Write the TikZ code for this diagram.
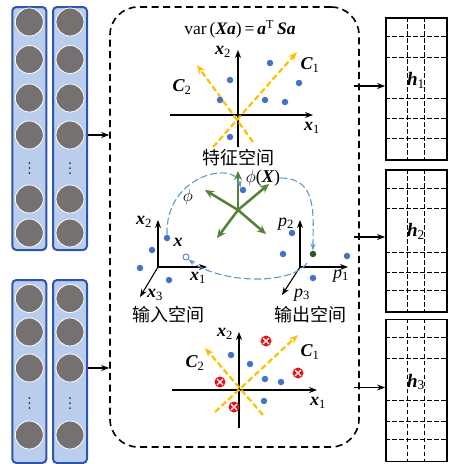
\documentclass[tikz,border=0pt]{standalone}
\usepackage{fontspec}
\setmainfont{Liberation Serif}
\newfontfamily\cjk{Noto Sans CJK SC}
\usetikzlibrary{arrows.meta,calc}
\definecolor{colfill}{RGB}{186,205,236}
\definecolor{colborder}{RGB}{47,85,170}
\definecolor{neurongray}{RGB}{118,113,113}
\definecolor{dotblue}{RGB}{68,114,196}
\definecolor{pcyellow}{RGB}{255,192,0}
\definecolor{greenarr}{RGB}{84,130,53}
\definecolor{darkgreen}{RGB}{46,84,30}
\definecolor{curveblue}{RGB}{91,155,213}
\definecolor{redpt}{RGB}{230,20,20}
\newcommand\bvx[1]{\textbf{\textit{x}}\textsubscript{#1}}
\newcommand\bvC[1]{\textbf{\textit{C}}\textsubscript{#1}}
\newcommand\ivp[1]{\textit{p}\textsubscript{#1}}
\begin{document}
\begin{tikzpicture}[x=1pt,y=-1pt,
  col/.style={draw=colborder, fill=colfill, line width=2pt, rounded corners=4pt, inner sep=0pt, minimum width=34pt},
  neuron/.style={circle, fill=neurongray, draw=white, line width=0.8pt, minimum size=28pt, inner sep=0pt},
  vdot/.style={circle, fill=black!80, minimum size=2pt, inner sep=0pt},
  arr/.style={-{Stealth[length=8pt,width=6pt]}, line width=1.3pt},
  axis/.style={-{Stealth[length=8pt,width=6pt]}, line width=1.1pt},
  pc/.style={draw=pcyellow, line width=2.2pt, dash pattern=on 6pt off 3pt, -{Stealth[length=9pt,width=7pt]}},
  garr/.style={draw=greenarr, line width=2.5pt, -{Stealth[length=9pt,width=8pt]}},
  crv/.style={draw=curveblue, line width=1.1pt, dash pattern=on 7pt off 3pt, -{Stealth[length=7pt,width=5pt]}},
  dot/.style={circle, fill=dotblue, minimum size=6.5pt, inner sep=0pt},
  xdot/.style={circle, fill=redpt, minimum size=11pt, inner sep=0pt,
     path picture={\draw[white,line width=1.1pt]
       ([shift={(-3pt,-3pt)}]path picture bounding box.center) -- ([shift={(3pt,3pt)}]path picture bounding box.center)
       ([shift={(-3pt,3pt)}]path picture bounding box.center) -- ([shift={(3pt,-3pt)}]path picture bounding box.center);}},
  lbl/.style={font=\fontsize{18}{18}\selectfont, inner sep=0pt},
  ttl/.style={font=\fontsize{17.5}{18}\selectfont, inner sep=0pt},
  zh/.style={font=\cjk\fontsize{18}{18}\selectfont, inner sep=0pt},
  hbox/.style={draw, line width=1.8pt, minimum width=61pt, minimum height=142pt, inner sep=0pt},
  grid/.style={line width=0.8pt, dash pattern=on 4.5pt off 2.5pt},
  hlbl/.style={font=\fontsize{19}{19}\selectfont, inner sep=0pt}
]
\useasboundingbox (0,0) rectangle (454,464);

% ---------- left columns, top group ----------
\node[col, minimum height=243pt] (ca1) at (29.3,128.5) {};
\node[col, minimum height=243pt] (ca2) at (70,128.5) {};
\foreach \c/\x in {1/29.3,2/70}{
  \foreach \i/\y in {1/22,2/59.5,3/98,4/135,6/199,7/233}{
    \node[neuron] (t\c\i) at (\x,\y) {};
  }
  \foreach \j/\y in {a/163,b/168,c/173}{\node[vdot] (td\c\j) at (\x,\y) {};}
}
% ---------- left columns, bottom group ----------
\node[col, minimum height=183pt] (cb1) at (29.3,371.5) {};
\node[col, minimum height=183pt] (cb2) at (70,371.5) {};
\foreach \c/\x in {1/29.3,2/70}{
  \foreach \i/\y in {1/298.5,2/332,3/368,5/435}{
    \node[neuron] (b\c\i) at (\x,\y) {};
  }
  \foreach \j/\y in {a/398,b/403,c/408}{\node[vdot] (bd\c\j) at (\x,\y) {};}
}

% ---------- central dashed box ----------
\node[draw, line width=1.6pt, dash pattern=on 7pt off 4.5pt, rounded corners=28pt,
      minimum width=249pt, minimum height=440pt, inner sep=0pt] (fbox) at (234.5,227) {};

\draw[arr] (t24 -| ca2.east) -- (t24 -| fbox.west);
\draw[arr] (b23 -| cb2.east) -- (b23 -| fbox.west);

% ---------- top plot ----------
\node[ttl] (title) at (240,29) {var\,(\textbf{\textit{Xa}})\,=\,\textbf{\textit{a}}\textsuperscript{T}\,\textbf{\textit{Sa}}};
\coordinate (o1l) at (170,115);
\coordinate (o1r) at (313,115);
\coordinate (o1b) at (238,147);
\coordinate (o1t) at (238,50);
\draw[axis] (o1l) -- (o1r);
\draw[axis] (o1b) -- (o1t);
\coordinate (c1s) at (213,147); \coordinate (c1e) at (297,52);
\coordinate (c2s) at (253,142); \coordinate (c2e) at (197,65);
\draw[pc] (c1s) -- (c1e);
\draw[pc] (c2s) -- (c2e);
\node[lbl] (tx2) at (223,52) {\bvx{2}};
\node[lbl] (tx1) at (312,128) {\bvx{1}};
\node[lbl] (tC1) at (310,65) {\bvC{1}};
\node[lbl] (tC2) at (182,87) {\bvC{2}};
\foreach \n/\p in {1/{(270,63)},2/{(230,80)},3/{(299,83)},4/{(220,100)},5/{(265,100)},6/{(285,102)},7/{(230,137)}}
  \node[dot] (td\n) at \p {};
\node[zh] (feat) at (238,158) {特征空间};

% ---------- middle: feature mapping ----------
\coordinate (gc) at (238,210);
\coordinate (gu) at (238,171);
\coordinate (gur) at (269,184);
\coordinate (gul) at (205,190);
\coordinate (gdl) at (217,238);
\coordinate (gdr) at (266,234);
\foreach \t in {gu,gur,gul,gdl,gdr} \draw[garr] (gc) -- (\t);

\node[dot] (phix) at (243,190) {};
\node[lbl] (philbl) at (263,178) {$\phi$(\textbf{\textit{X}})};
\node[lbl] (phi) at (188,197) {$\phi$};

% input space
\coordinate (io) at (158,267);
\coordinate (iy) at (158,220);
\coordinate (ix) at (207,267);
\coordinate (iz) at (140,297);
\draw[axis] (io) -- (iy);
\draw[axis] (io) -- (ix);
\draw[axis] (io) -- (iz);
\node[lbl] (ix2) at (144,222) {\bvx{2}};
\node[lbl] (ix1) at (198,278) {\bvx{1}};
\node[lbl] (ix3) at (155,295) {\bvx{3}};
\node[dot] (xin) at (167,238) {};
\node[lbl] (xlbl) at (178,242) {\textbf{\textit{x}}};
\node[dot] (id2) at (152,250) {};
\node[dot] (id3) at (140,268) {};
\node[dot] (id4) at (169,280) {};
\node[circle, draw=dotblue, fill=white, line width=0.8pt, minimum size=6pt, inner sep=0pt] (hollow) at (186,257) {};
\node[zh] (inlbl) at (168,315) {输入空间};

% output space
\coordinate (po) at (300,267);
\coordinate (py) at (300,220);
\coordinate (px) at (348,267);
\coordinate (pz) at (282,295);
\draw[axis] (po) -- (py);
\draw[axis] (po) -- (px);
\draw[axis] (po) -- (pz);
\node[lbl] (pp2) at (286,224) {\ivp{2}};
\node[lbl] (pp1) at (341,276) {\ivp{1}};
\node[lbl] (pp3) at (302,295) {\ivp{3}};
\node[dot] (od1) at (292,233) {};
\node[dot] (od2) at (283,254) {};
\node[dot, fill=darkgreen] (ogreen) at (313,254) {};
\node[dot] (od4) at (347,256) {};
\node[dot] (od5) at (313,278) {};
\node[zh] (outlbl) at (310,315) {输出空间};

% dashed curves
\draw[crv] (xin.north) .. controls (165,175) and (235,160) .. (phix.north west);
\draw[crv] (philbl.east) .. controls (318,178) and (313,215) .. (ogreen.north);
\draw[crv] (307,263) .. controls (290,286) and (220,283) .. (hollow.south east);

% ---------- bottom plot ----------
\coordinate (o3l) at (172,390);
\coordinate (o3r) at (317,390);
\coordinate (o3b) at (239,428);
\coordinate (o3t) at (239,332);
\draw[axis] (o3l) -- (o3r);
\draw[axis] (o3b) -- (o3t);
\coordinate (d1s) at (215,412); \coordinate (d1e) at (298,335);
\coordinate (d2s) at (263,415); \coordinate (d2e) at (205,348);
\draw[pc] (d1s) -- (d1e);
\draw[pc] (d2s) -- (d2e);
\node[lbl] (bx2) at (225,334) {\bvx{2}};
\node[lbl] (bx1) at (318,403) {\bvx{1}};
\node[lbl] (bC1) at (310,352) {\bvC{1}};
\node[lbl] (bC2) at (195,363) {\bvC{2}};
\foreach \n/\p in {1/{(231,355)},2/{(250,364)},3/{(265,379)},4/{(281,382)},5/{(264,401)}}
  \node[dot] (bd\n) at \p {};
\foreach \n/\p in {1/{(266,341)},2/{(298,373)},3/{(220,382)},4/{(234,407)}}
  \node[xdot] (bx\n) at \p {};

% ---------- right h boxes ----------
\node[hbox] (h1box) at (416.5,89) {};
\node[hbox] (h2box) at (416.5,241) {};
\node[hbox] (h3box) at (416.5,390.5) {};
\foreach \b/\ys in {h1box/{36,57,98,118,138}, h2box/{188,208,252,272,290}, h3box/{337,358,400,421,439}}{
  \foreach \y in \ys {\draw[grid] (\b.west |- 0,\y) -- (\b.east |- 0,\y);}
  \draw[grid] (\b.north -| 407,0) -- (\b.south -| 407,0);
  \draw[grid] (\b.north -| 424,0) -- (\b.south -| 424,0);
}
\node[hlbl] (h1) at (416,80) {\textbf{\textit{h}}\textsubscript{1}};
\node[hlbl] (h2) at (416,231) {\textbf{\textit{h}}\textsubscript{2}};
\node[hlbl] (h3) at (416,382) {\textbf{\textit{h}}\textsubscript{3}};

\draw[arr] ($(h1box.west -| fbox.east)+(-6,-3)$) -- ($(h1box.west)+(0,-3)$);
\draw[arr] ($(h2box.west -| fbox.east)+(-6,-4)$) -- ($(h2box.west)+(0,-4)$);
\draw[arr] ($(h3box.west -| fbox.east)+(-6,-3)$) -- ($(h3box.west)+(0,-3)$);
\end{tikzpicture}
\end{document}
